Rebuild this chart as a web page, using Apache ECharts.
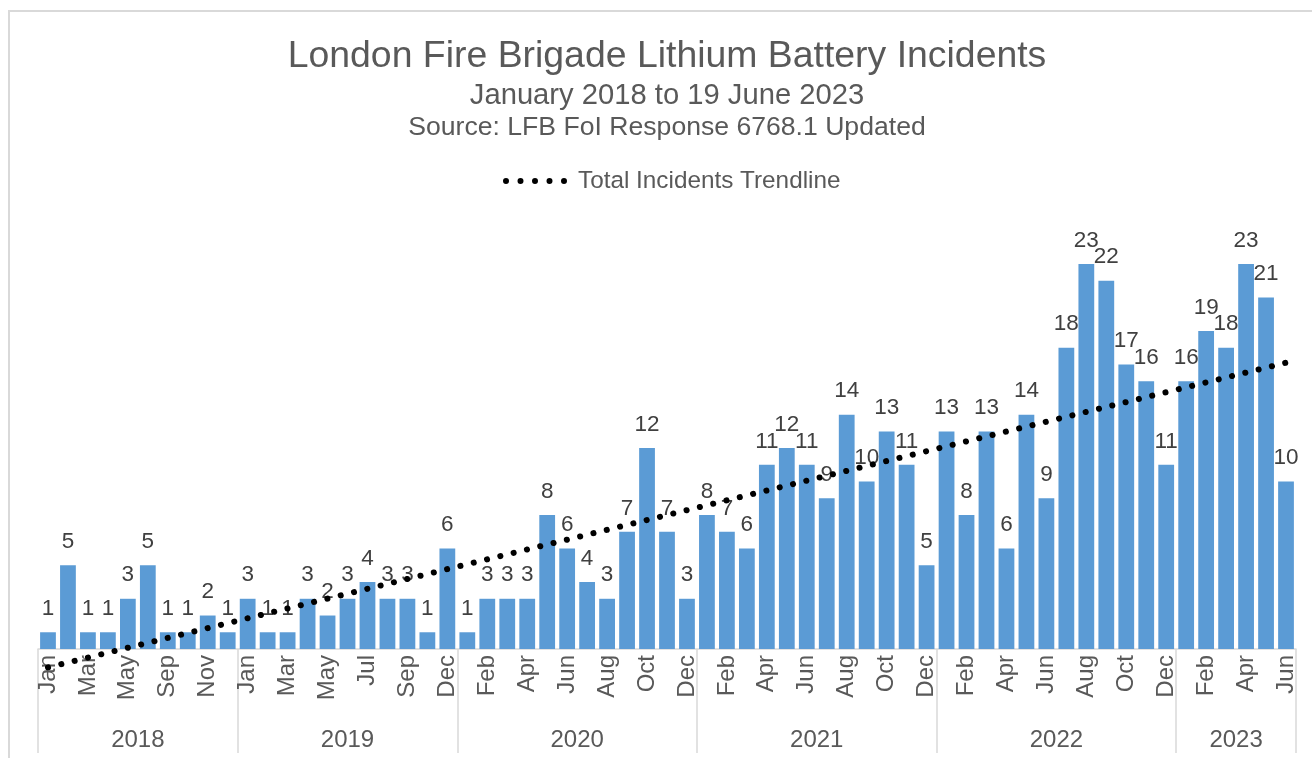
<!DOCTYPE html>
<html>
<head>
<meta charset="utf-8">
<script src="https://cdn.jsdelivr.net/npm/echarts@6/dist/echarts.min.js"></script>
<style>
html, body { margin: 0; padding: 0; background: #ffffff; }
#chart { width: 1312px; height: 758px; }
</style>
</head>
<body>
<div id="chart"></div>
<script>
// ---------- data ----------
const years = ['2018', '2019', '2020', '2021', '2022', '2023'];

const months2018 = ['Jan', 'Feb', 'Mar', 'Apr', 'May', 'Jun', 'Sep', 'Oct', 'Nov', 'Dec'];
const months2019 = ['Jan', 'Feb', 'Mar', 'Apr', 'May', 'Jun', 'Jul', 'Aug', 'Sep', 'Oct', 'Dec'];
const months2020 = ['Jan', 'Feb', 'Mar', 'Apr', 'May', 'Jun', 'Jul', 'Aug', 'Sep', 'Oct', 'Nov', 'Dec'];
const months2021 = ['Jan', 'Feb', 'Mar', 'Apr', 'May', 'Jun', 'Jul', 'Aug', 'Sep', 'Oct', 'Nov', 'Dec'];
const months2022 = ['Jan', 'Feb', 'Mar', 'Apr', 'May', 'Jun', 'Jul', 'Aug', 'Sep', 'Oct', 'Nov', 'Dec'];
const months2023 = ['Jan', 'Feb', 'Mar', 'Apr', 'May', 'Jun'];

const incidents2018 = [1, 5, 1, 1, 3, 5, 1, 1, 2, 1];
const incidents2019 = [3, 1, 1, 3, 2, 3, 4, 3, 3, 1, 6];
const incidents2020 = [1, 3, 3, 3, 8, 6, 4, 3, 7, 12, 7, 3];
const incidents2021 = [8, 7, 6, 11, 12, 11, 9, 14, 10, 13, 11, 5];
const incidents2022 = [13, 8, 13, 6, 14, 9, 18, 23, 22, 17, 16, 11];
const incidents2023 = [16, 19, 18, 23, 21, 10];

// linear trendline: value at first and last month
const trendStart = -1.1;
const trendEnd = 17.1;

const titleText = 'London Fire Brigade Lithium Battery Incidents';
const subtitleText = 'January 2018 to 19 June 2023';
const sourceText = 'Source: LFB FoI Response 6768.1 Updated';
const trendName = 'Total Incidents Trendline';

// ---------- build ----------
const monthsByYear = [months2018, months2019, months2020, months2021, months2022, months2023];
const incidentsByYear = [incidents2018, incidents2019, incidents2020, incidents2021, incidents2022, incidents2023];

const categories = [].concat(...monthsByYear);
const incidents = [].concat(...incidentsByYear);
const total = categories.length;

const boundaries = [0];
monthsByYear.forEach(m => boundaries.push(boundaries[boundaries.length - 1] + m.length));
const mids = years.map((y, i) => (boundaries[i] + boundaries[i + 1]) / 2);

const trend = categories.map((c, i) => (i === 0 ? trendStart : (i === total - 1 ? trendEnd : null)));

const font = '"Liberation Sans", Arial, sans-serif';
const dotPath = 'path://M0,3a3,3 0 1,0 6,0a3,3 0 1,0 -6,0Z' +
  'M14.5,3a3,3 0 1,0 6,0a3,3 0 1,0 -6,0Z' +
  'M29,3a3,3 0 1,0 6,0a3,3 0 1,0 -6,0Z' +
  'M43.5,3a3,3 0 1,0 6,0a3,3 0 1,0 -6,0Z' +
  'M58,3a3,3 0 1,0 6,0a3,3 0 1,0 -6,0Z';

const chart = echarts.init(document.getElementById('chart'), null, { renderer: 'canvas' });

chart.setOption({
  animation: false,
  backgroundColor: '#ffffff',
  textStyle: { fontFamily: font },
  graphic: [{
    type: 'rect',
    silent: true,
    shape: { x: 9, y: 11, width: 1400, height: 900 },
    style: { fill: 'none', stroke: '#d9d9d9', lineWidth: 2 }
  }],
  title: [
    { text: titleText, left: 662, textAlign: 'center', top: 33,
      textStyle: { fontFamily: font, fontSize: 37.4, fontWeight: 'normal', color: '#595959' } },
    { text: subtitleText, left: 662, textAlign: 'center', top: 76,
      textStyle: { fontFamily: font, fontSize: 29.2, fontWeight: 'normal', color: '#595959' } },
    { text: sourceText, left: 662, textAlign: 'center', top: 109,
      textStyle: { fontFamily: font, fontSize: 26.6, fontWeight: 'normal', color: '#595959' } }
  ],
  legend: {
    data: [{ name: trendName, icon: dotPath }],
    left: 498,
    top: 164,
    itemWidth: 64,
    itemHeight: 6,
    itemGap: 10,
    textStyle: { fontFamily: font, fontSize: 24.3, color: '#595959', padding: [0, 0, 0, 6] }
  },
  grid: { left: 38, right: 16, top: 230.5, bottom: 109, containLabel: false },
  xAxis: [
    {
      type: 'category',
      data: categories,
      boundaryGap: true,
      axisLine: { show: true, lineStyle: { color: '#d9d9d9', width: 1.5 } },
      axisTick: { show: false },
      axisLabel: {
        interval: 1,
        rotate: 90,
        margin: 6,
        fontFamily: font,
        fontSize: 24,
        color: '#595959'
      },
      splitLine: { show: false }
    },
    {
      type: 'value',
      min: 0,
      max: total,
      position: 'bottom',
      axisLine: { show: false },
      splitLine: { show: false },
      axisTick: {
        show: true,
        customValues: boundaries,
        length: 104,
        lineStyle: { color: '#d9d9d9', width: 1.5 }
      },
      axisLabel: {
        show: true,
        customValues: mids,
        margin: 79,
        fontFamily: font,
        fontSize: 24,
        color: '#595959',
        formatter: function (v) {
          const k = mids.findIndex(m => Math.abs(m - v) < 1e-6);
          return k >= 0 ? years[k] : '';
        }
      }
    }
  ],
  yAxis: {
    type: 'value',
    min: 0,
    max: 25,
    show: false,
    splitLine: { show: false }
  },
  series: [
    {
      name: 'Total Incidents',
      type: 'bar',
      xAxisIndex: 0,
      data: incidents,
      barCategoryGap: '21%',
      itemStyle: { color: '#5b9bd5' },
      label: {
        show: true,
        position: 'top',
        distance: 12,
        fontFamily: font,
        fontSize: 22.5,
        color: '#404040'
      },
      z: 2
    },
    {
      name: trendName,
      type: 'line',
      xAxisIndex: 0,
      data: trend,
      connectNulls: true,
      clip: false,
      symbol: 'none',
      showSymbol: false,
      color: '#000000',
      itemStyle: { color: '#000000' },
      lineStyle: { color: '#000000', width: 6, type: [0.1, 13.6], cap: 'round' },
      z: 5
    }
  ]
});
</script>
</body>
</html>
